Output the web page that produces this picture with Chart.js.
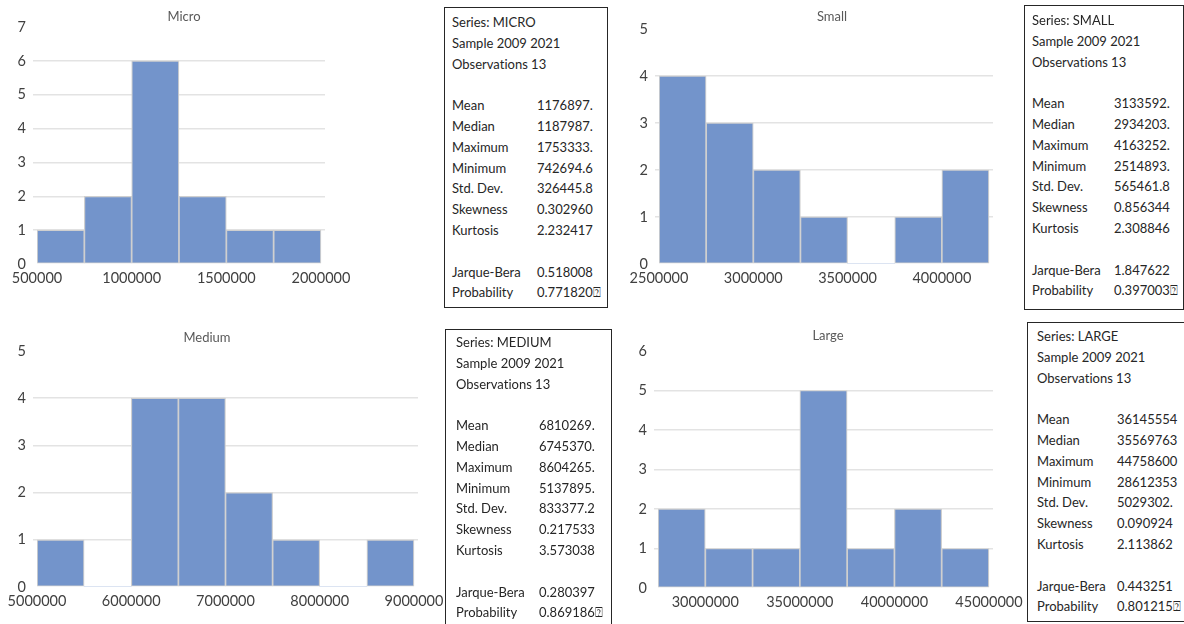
<!DOCTYPE html>
<html>
<head>
<meta charset="utf-8">
<script src="https://cdn.jsdelivr.net/npm/chart.js@4.4.0/dist/chart.umd.min.js"></script>
<style>
  body { margin: 0; width: 1184px; height: 624px; background: #fff; position: relative; overflow: hidden; font-family: Lato, "Open Sans", sans-serif; font-variant-ligatures: none; }
  canvas { position: absolute; }
  .title { position: absolute; font-size: 13px; color: #595959; transform: translate(-50%, -50%); white-space: nowrap; }
  .stats { position: absolute; box-sizing: border-box; border: 1.5px solid #262626; background: #fff; font-size: 13px; color: #262626; overflow: hidden; }
  .stats .row { position: absolute; white-space: nowrap; line-height: 15px; transform: translateY(-50%); }
</style>
</head>
<body>
<canvas id="chartMicro" width="360" height="300" style="left:0;top:0"></canvas>
<canvas id="chartSmall" width="381" height="300" style="left:622px;top:0"></canvas>
<canvas id="chartMedium" width="460" height="303" style="left:0;top:320px"></canvas>
<canvas id="chartLarge" width="409" height="304" style="left:621px;top:320px"></canvas>

<div class="title" style="left:184px;top:16px">Micro</div>
<div class="title" style="left:832px;top:16px">Small</div>
<div class="title" style="left:207px;top:337px">Medium</div>
<div class="title" style="left:828px;top:335px">Large</div>

<div class="stats" id="statsMicro" style="left:444px;top:7px;width:164px;height:301px"></div>
<div class="stats" id="statsSmall" style="left:1024px;top:5px;width:160px;height:305px"></div>
<div class="stats" id="statsMedium" style="left:445px;top:329px;width:167px;height:300px"></div>
<div class="stats" id="statsLarge" style="left:1027px;top:322px;width:159px;height:300px"></div>

<script>
// histogram bins (lower edges) and counts
const microBins = [500000, 750000, 1000000, 1250000, 1500000, 1750000];
const microCounts = [1, 2, 6, 2, 1, 1];
const microTicks = [500000, 1000000, 1500000, 2000000];

const smallBins = [2500000, 2750000, 3000000, 3250000, 3500000, 3750000, 4000000];
const smallCounts = [4, 3, 2, 1, 0, 1, 2];
const smallTicks = [2500000, 3000000, 3500000, 4000000];

const mediumBins = [5000000, 5500000, 6000000, 6500000, 7000000, 7500000, 8000000, 8500000];
const mediumCounts = [1, 0, 4, 4, 2, 1, 0, 1];
const mediumTicks = [5000000, 6000000, 7000000, 8000000, 9000000];

const largeBins = [27500000, 30000000, 32500000, 35000000, 37500000, 40000000, 42500000];
const largeCounts = [2, 1, 1, 5, 1, 2, 1];
const largeTicks = [30000000, 35000000, 40000000, 45000000];

// summary statistics shown next to each histogram
const statNames = ['Mean', 'Median', 'Maximum', 'Minimum', 'Std. Dev.', 'Skewness', 'Kurtosis'];
const testNames = ['Jarque-Bera', 'Probability'];

const microStats = ['1176897.', '1187987.', '1753333.', '742694.6', '326445.8', '0.302960', '2.232417'];
const microTests = ['0.518008', '0.771820\u2370'];
const smallStats = ['3133592.', '2934203.', '4163252.', '2514893.', '565461.8', '0.856344', '2.308846'];
const smallTests = ['1.847622', '0.397003\u2370'];
const mediumStats = ['6810269.', '6745370.', '8604265.', '5137895.', '833377.2', '0.217533', '3.573038'];
const mediumTests = ['0.280397', '0.869186\u2370'];
const largeStats = ['36145554', '35569763', '44758600', '28612353', '5029302.', '0.090924', '2.113862'];
const largeTests = ['0.443251', '0.801215\u2370'];

const tickFont = { family: 'Lato', size: 14.5 };
const tickColor = '#404040';

function makeHistogram(id, bins, counts, ticks, yMax, pad) {
  const width = bins[1] - bins[0];
  const points = bins.map((b, i) => ({ x: b + width / 2, y: counts[i] }));
  const xMin = bins[0];
  const xMax = bins[bins.length - 1] + width * 1.085;

  return new Chart(document.getElementById(id), {
    type: 'bar',
    data: {
      datasets: [{
        data: points,
        backgroundColor: '#7394cb',
        borderColor: '#cfcfcf',
        borderWidth: ctx => (ctx.raw && ctx.raw.y > 0 ? 1.2 : 0),
        borderSkipped: false,
        barPercentage: 1,
        categoryPercentage: 1
      }]
    },
    options: {
      responsive: false,
      animation: false,
      layout: { padding: pad },
      plugins: { legend: { display: false }, tooltip: { enabled: false } },
      scales: {
        x: {
          type: 'linear',
          min: xMin,
          max: xMax,
          offset: false,
          grid: { display: false, drawTicks: false, offset: false },
          border: { display: false },
          afterBuildTicks: scale => { scale.ticks = ticks.map(v => ({ value: v })); },
          afterFit: scale => { scale.height = 36; },
          ticks: {
            font: tickFont,
            color: tickColor,
            padding: 6,
            maxRotation: 0,
            autoSkip: false,
            callback: v => String(v)
          }
        },
        y: {
          min: 0,
          max: yMax,
          afterFit: scale => { scale.width = 37; },
          grid: {
            color: ctx => (ctx.tick && ctx.tick.value > 0 && ctx.tick.value < yMax ? '#e3e3e3' : 'rgba(0,0,0,0)'),
            lineWidth: 1.5,
            tickLength: 4
          },
          border: { display: false },
          ticks: { stepSize: 1, font: tickFont, color: tickColor, padding: 7 }
        }
      }
    }
  });
}

function fillStats(id, name, stats, tests, labelX, valueX, firstY) {
  const box = document.getElementById(id);
  const lineH = 20.8;
  const rows = [];
  rows.push(['Series: ' + name, null]);
  rows.push(['Sample 2009 2021', null]);
  rows.push(['Observations 13', null]);
  rows.push(null);
  statNames.forEach((s, i) => rows.push([s, stats[i]]));
  rows.push(null);
  testNames.forEach((s, i) => rows.push([s, tests[i]]));

  rows.forEach((r, i) => {
    if (!r) return;
    const y = firstY + i * lineH;
    const a = document.createElement('div');
    a.className = 'row';
    a.style.left = labelX + 'px';
    a.style.top = y + 'px';
    a.textContent = r[0];
    box.appendChild(a);
    if (r[1] !== null) {
      const b = document.createElement('div');
      b.className = 'row';
      b.style.left = valueX + 'px';
      b.style.top = y + 'px';
      b.textContent = r[1];
      box.appendChild(b);
    }
  });
}

makeHistogram('chartMicro', microBins, microCounts, microTicks, 7, { top: 27, right: 35, bottom: 0, left: 0 });
makeHistogram('chartSmall', smallBins, smallCounts, smallTicks, 5, { top: 29, right: 10, bottom: 0, left: 0 });
makeHistogram('chartMedium', mediumBins, mediumCounts, mediumTicks, 5, { top: 31, right: 42, bottom: 0, left: 0 });
makeHistogram('chartLarge', largeBins, largeCounts, largeTicks, 6, { top: 31, right: 37, bottom: 0, left: 0 });

fillStats('statsMicro', 'MICRO', microStats, microTests, 7, 92, 14);
fillStats('statsSmall', 'SMALL', smallStats, smallTests, 7, 89, 14);
fillStats('statsMedium', 'MEDIUM', mediumStats, mediumTests, 10, 93, 12);
fillStats('statsLarge', 'LARGE', largeStats, largeTests, 9, 89, 13);
</script>
</body>
</html>
